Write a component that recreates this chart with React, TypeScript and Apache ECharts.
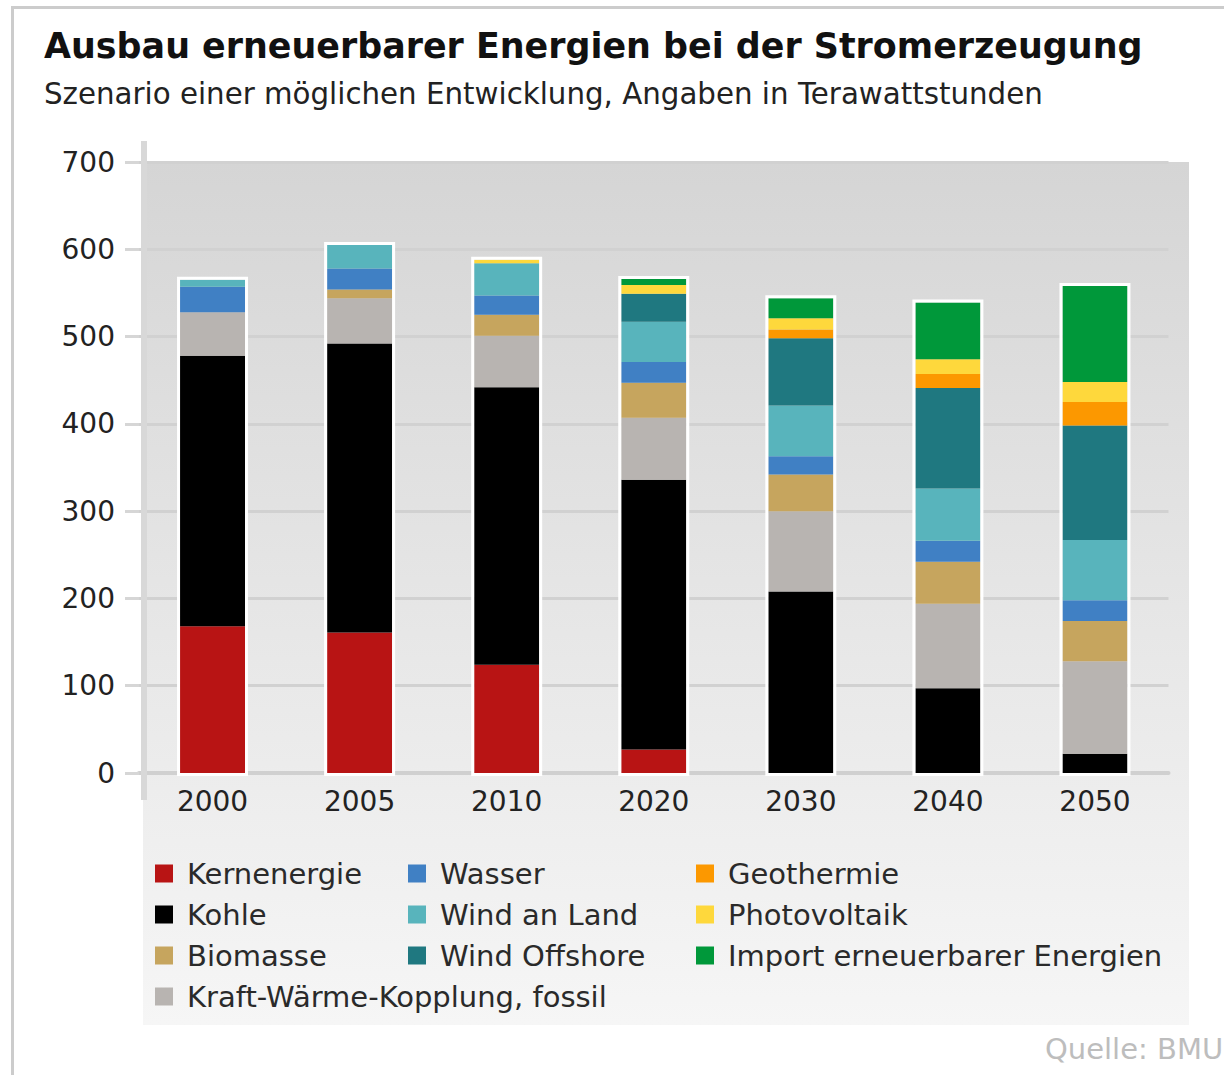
import React, { useEffect, useRef } from "react";
import * as echarts from "echarts";

const years = ["2000", "2005", "2010", "2020", "2030", "2040", "2050"];
const yTicks = [0, 100, 200, 300, 400, 500, 600, 700];

const kernenergie = [168, 161, 124, 27, 0, 0, 0];
const kohle = [310, 331, 318, 309, 208, 97, 22];
const kwk = [50, 52, 59, 71, 92, 97, 106];
const biomasse = [0, 10, 24, 40, 42, 48, 46];
const wasser = [29, 24, 22, 24, 21, 24, 24];
const windLand = [8, 27, 37, 46, 58, 60, 69];
const windOffshore = [0, 0, 0, 32, 77, 115, 131];
const geothermie = [0, 0, 0, 0, 10, 16, 27];
const photovoltaik = [0, 0, 4, 10, 13, 17, 23];
const importEE = [0, 0, 0, 7, 23, 65, 110];

const seriesDefs = [
  { name: "Kernenergie", data: kernenergie, color: "#b81414" },
  { name: "Kohle", data: kohle, color: "#000000" },
  { name: "Kraft-Wärme-Kopplung, fossil", data: kwk, color: "#b8b4b1" },
  { name: "Biomasse", data: biomasse, color: "#c6a55e" },
  { name: "Wasser", data: wasser, color: "#4080c4" },
  { name: "Wind an Land", data: windLand, color: "#58b4bc" },
  { name: "Wind Offshore", data: windOffshore, color: "#1f7880" },
  { name: "Geothermie", data: geothermie, color: "#fc9800" },
  { name: "Photovoltaik", data: photovoltaik, color: "#fed83c" },
  { name: "Import erneuerbarer Energien", data: importEE, color: "#00983a" },
];

const legendCol1 = ["Kernenergie", "Kohle", "Biomasse", "Kraft-Wärme-Kopplung, fossil"];
const legendCol2 = ["Wasser", "Wind an Land", "Wind Offshore"];
const legendCol3 = ["Geothermie", "Photovoltaik", "Import erneuerbarer Energien"];

const FONT = "DejaVu Sans, Verdana, sans-serif";
const BAR_W = 65;

export default function App() {
  const ref = useRef<HTMLDivElement>(null);
  useEffect(() => {
    if (!ref.current) return;
    const chart = echarts.init(ref.current, null, { renderer: "svg" });
    const totals = years.map((_, i) => seriesDefs.reduce((s, d) => s + d.data[i], 0));
    const legendBase = {
      orient: "vertical" as const,
      top: 854,
      icon: "rect",
      itemWidth: 18,
      itemHeight: 18,
      itemGap: 12,
      selectedMode: false,
      textStyle: { fontFamily: FONT, fontSize: 29, color: "#2a2a2a", padding: [0, 0, 0, 9] },
    };
    chart.setOption({
      animation: false,
      backgroundColor: "#ffffff",
      graphic: [
        { type: "rect", z: -100, shape: { x: 11, y: 6, width: 3, height: 1075 }, style: { fill: "#cccccc" } },
        { type: "rect", z: -100, shape: { x: 11, y: 6, width: 1213, height: 3 }, style: { fill: "#cccccc" } },
        {
          type: "rect",
          z: -100,
          shape: { x: 143, y: 162, width: 1046, height: 863 },
          style: {
            fill: new echarts.graphic.LinearGradient(0, 0, 0, 1, [
              { offset: 0, color: "#d5d5d5" },
              { offset: 1, color: "#f6f6f6" },
            ]),
          },
        },
        { type: "rect", z: 1, shape: { x: 141, y: 141, width: 6, height: 659 }, style: { fill: "#d8d8d8" } },
        {
          type: "text",
          left: 44,
          top: 28,
          style: { text: "Ausbau erneuerbarer Energien bei der Stromerzeugung", font: `bold 34.9px ${FONT}`, fill: "#111" },
        },
        {
          type: "text",
          left: 44,
          top: 79,
          style: { text: "Szenario einer möglichen Entwicklung, Angaben in Terawattstunden", font: `29.3px ${FONT}`, fill: "#222" },
        },
        {
          type: "text",
          left: 1045,
          top: 1034,
          style: { text: "Quelle: BMU", font: `29px ${FONT}`, fill: "#bdbdbd" },
        },
      ],
      grid: { left: 139, right: 55.5, top: 162, bottom: 302, containLabel: false },
      xAxis: {
        type: "category",
        data: years,
        axisLine: { show: true, lineStyle: { color: "#d0d0d0", width: 4 } },
        axisTick: { show: false },
        axisLabel: { fontFamily: FONT, fontSize: 28, color: "#222", margin: 14 },
      },
      yAxis: {
        type: "value",
        min: 0,
        max: 700,
        interval: 100,
        axisLine: { show: false },
        axisTick: { show: true, length: 14, lineStyle: { color: "#d6d6d6", width: 3 } },
        axisLabel: {
          fontFamily: FONT,
          fontSize: 28,
          color: "#222",
          margin: 24,
          formatter: (v: number) => (yTicks.includes(v) ? String(v) : ""),
        },
        splitLine: { show: true, lineStyle: { color: "#d1d1d1", width: 3 } },
      },
      legend: [
        { ...legendBase, left: 150, data: legendCol1 },
        { ...legendBase, left: 403, data: legendCol2 },
        { ...legendBase, left: 691, data: legendCol3 },
      ],
      series: [
        ...seriesDefs.map((d) => ({
          name: d.name,
          type: "bar",
          stack: "total",
          data: d.data,
          barWidth: BAR_W,
          itemStyle: { color: d.color },
          z: 2,
        })),
        {
          name: "Rahmen",
          type: "custom",
          z: 3,
          silent: true,
          data: totals.map((t, i) => [i, t]),
          encode: { x: 0, y: 1 },
          renderItem: (params: any, api: any) => {
            const top = api.coord([api.value(0), api.value(1)]);
            const base = api.coord([api.value(0), 0]);
            const half = BAR_W / 2 + 1.5;
            return {
              type: "rect",
              shape: { x: top[0] - half, y: top[1] - 1.5, width: half * 2, height: base[1] - top[1] + 3 },
              style: { fill: "none", stroke: "#ffffff", lineWidth: 3 },
            };
          },
        },
      ],
    });
    return () => chart.dispose();
  }, []);
  return (
    <div
      ref={ref}
      style={{ position: "fixed", left: 0, top: 0, width: 1224, height: 1075 }}
    />
  );
}
